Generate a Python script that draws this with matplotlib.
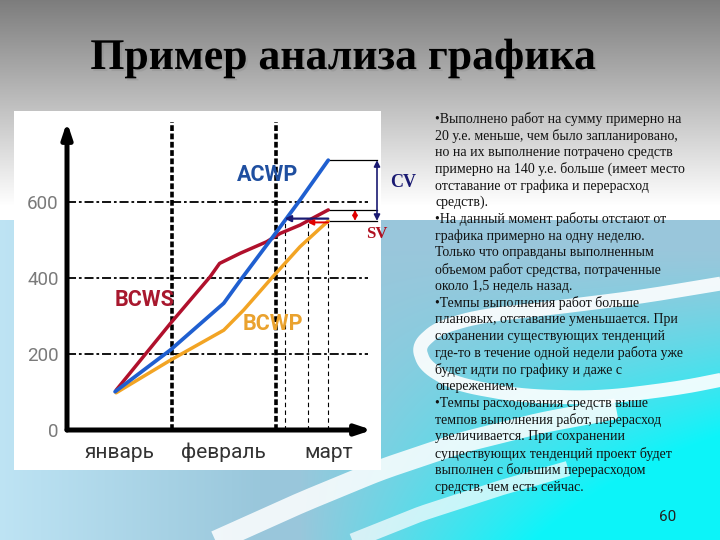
import numpy as np
import matplotlib
matplotlib.use("Agg")
import matplotlib.pyplot as plt
from matplotlib.patches import Rectangle
import matplotlib.patheffects as pe

# ---------------- data ----------------
months = ['январь', 'февраль', 'март']
month_pos = [0.5, 1.5, 2.5]
month_bounds = [1, 2]
y_ticks = [0, 200, 400, 600]

bcws_x = [0.47, 0.99, 1.37, 1.46, 1.66, 1.91, 2.04, 2.23, 2.35, 2.50]
bcws_y = [105, 281, 404, 439, 466, 496, 518, 540, 558, 580]

acwp_x = [0.46, 0.99, 1.50, 1.66, 1.97, 2.23, 2.50]
acwp_y = [101, 211, 334, 395, 509, 606, 711]

bcwp_x = [0.47, 0.99, 1.50, 1.69, 1.97, 2.23, 2.50]
bcwp_y = [98, 184, 263, 316, 404, 483, 551]

title = 'Пример анализа графика'
body_lines = [
    '•Выполнено работ на сумму примерно на',
    '20 у.е. меньше, чем было запланировано,',
    'но на их выполнение потрачено средств',
    'примерно на 140 у.е. больше (имеет место',
    'отставание от графика и перерасход',
    'средств).',
    '•На данный момент работы отстают от',
    'графика примерно на одну неделю.',
    'Только что оправданы выполненным',
    'объемом работ средства, потраченные',
    'около 1,5 недель назад.',
    '•Темпы выполнения работ больше',
    'плановых, отставание уменьшается. При',
    'сохранении существующих тенденций',
    'где-то в течение одной недели работа уже',
    'будет идти по графику и даже с',
    'опережением.',
    '•Темпы расходования средств выше',
    'темпов выполнения работ, перерасход',
    'увеличивается. При сохранении',
    'существующих тенденций проект будет',
    'выполнен с большим перерасходом',
    'средств, чем есть сейчас.',
]
page_no = '60'

NARROW = ['Roboto', 'DejaVu Sans']
SERIF = ['Liberation Serif', 'DejaVu Serif']

# ---------------- figure / background ----------------
W, H = 720, 540
fig = plt.figure(figsize=(7.2, 5.4), dpi=100)
bg = fig.add_axes([0, 0, 1, 1], zorder=-5)
bg.set_xlim(0, W)
bg.set_ylim(H, 0)
bg.axis('off')

yy, xx = np.mgrid[0:H, 0:W].astype(float)
img = np.zeros((H, W, 3))
g = np.clip(0.49 + 0.51 * yy / 205.0, 0, 1)
top = yy < 220
for c in range(3):
    img[..., c] = g
base = np.array([0.60, 0.78, 0.86])
light = np.array([0.78, 0.92, 0.98])
cyan = np.array([0.05, 0.96, 0.98])
wl = np.clip(1 - xx / 260.0, 0, 1)[..., None] * 0.8
wc = (np.clip((xx - 300) / 420.0, 0, 1) * np.clip((yy - 250) / 290.0, 0, 1) ** 1.3 * 1.8)
wc = np.clip(wc, 0, 1)[..., None]
blue = base * (1 - wl) + light * wl
blue = blue * (1 - wc) + cyan * wc
img[~top] = blue[~top]
bg.imshow(img, extent=(0, W, H, 0), aspect='auto', zorder=0)


def swoosh(pts, lw, alpha):
    p = np.array(pts, float)
    t = np.linspace(0, 1, len(p))
    ts = np.linspace(0, 1, 200)
    xs = np.interp(ts, t, p[:, 0])
    ys = np.interp(ts, t, p[:, 1])
    k = np.ones(15) / 15
    xs = np.convolve(np.pad(xs, 7, mode='edge'), k, mode='valid')
    ys = np.convolve(np.pad(ys, 7, mode='edge'), k, mode='valid')
    bg.plot(xs, ys, color='white', lw=lw, alpha=alpha, solid_capstyle='butt', zorder=1)


swoosh([(730, 282), (640, 297), (560, 307), (480, 316), (438, 328), (418, 346),
        (425, 366), (455, 384), (520, 396), (600, 398), (680, 388), (730, 378)], 10, 0.9)
swoosh([(200, 548), (300, 503), (380, 470), (460, 443), (540, 423), (620, 408)], 15, 0.85)
swoosh([(335, 548), (420, 514), (500, 488), (570, 468)], 11, 0.7)

bg.add_patch(Rectangle((14, 111), 367, 359, fc='white', ec='none', zorder=3))

bg.text(343, 69, title, ha='center', va='baseline', fontsize=31.5, fontweight='bold',
        family=SERIF, color='black', zorder=5,
        path_effects=[pe.withSimplePatchShadow(offset=(1.5, -1.5), shadow_rgbFace='#888888', alpha=0.35)])

for i, line in enumerate(body_lines):
    bg.text(435, 119 + i * 16.73, line, ha='left', va='center', fontsize=10,
            family=SERIF, color='#111111', zorder=5)

bg.text(668, 517, page_no, ha='center', va='center', fontsize=11, family=NARROW,
        color='#222222', zorder=5)

# ---------------- chart ----------------
px_per_x = 104.5
px_per_y = 0.3795
x_left, x_right, y_bot, y_top = 67, 372, 430, 122
ax = fig.add_axes([x_left / W, (H - y_bot) / H, (x_right - x_left) / W, (y_bot - y_top) / H], zorder=1)
ax.patch.set_alpha(0)
ax.set_xlim(0, (x_right - x_left) / px_per_x)
ax.set_ylim(0, (y_bot - y_top) / px_per_y)
for s in ax.spines.values():
    s.set_visible(False)
xmax = ax.get_xlim()[1]
ymax = ax.get_ylim()[1]

grid_end = (368 - x_left) / px_per_x
for v in y_ticks[1:]:
    ax.plot([0, grid_end], [v, v], color='black', lw=1.3, ls=(0, (5, 1.6, 1.5, 1.6)), zorder=2)
for b in month_bounds:
    ax.plot([b, b], [0, ymax], color='black', lw=2.6, ls=(0, (1.6, 0.7)), zorder=2)

acwp_end, bcws_end, bcwp_end = acwp_y[-1], bcws_y[-1], bcwp_y[-1]
x_end = bcwp_x[-1]
x_cv = np.interp(bcwp_end, acwp_y, acwp_x)
x_sv = np.interp(bcwp_end, bcws_y, bcws_x)
for xv in [x_cv, x_sv, x_end]:
    ax.plot([xv, xv], [0, bcwp_end], color='black', lw=0.8, ls=(0, (4, 3)), zorder=2)

ax.plot(bcwp_x, bcwp_y, color='#f2a424', lw=2.5, zorder=4, solid_capstyle='round')
ax.plot(bcws_x, bcws_y, color='#b0102c', lw=2.5, zorder=5, solid_capstyle='round')
ax.plot(acwp_x, acwp_y, color='#1f5fd0', lw=2.7, zorder=6, solid_capstyle='round')

navy = '#1a1a72'
xb = (377 - x_left) / px_per_x
for v in [acwp_end, bcws_end, bcwp_end]:
    ax.plot([x_end, xb], [v, v], color='black', lw=0.9, clip_on=False, zorder=3)
ax.annotate('', xy=(xb, bcwp_end), xytext=(xb, acwp_end), annotation_clip=False,
            arrowprops=dict(arrowstyle='<|-|>', color=navy, lw=1.2, mutation_scale=9, shrinkA=0, shrinkB=0), zorder=7)
xr = (355 - x_left) / px_per_x
ax.annotate('', xy=(xr, bcwp_end), xytext=(xr, bcws_end), annotation_clip=False,
            arrowprops=dict(arrowstyle='<|-|>', color='#e00000', lw=1.2, mutation_scale=7, shrinkA=0, shrinkB=0), zorder=7)
ax.annotate('', xy=(x_cv, bcwp_end + 6), xytext=(x_end, bcwp_end + 6),
            arrowprops=dict(arrowstyle='-|>', color=navy, lw=1.6, mutation_scale=9, shrinkA=0, shrinkB=0), zorder=7)
ax.annotate('', xy=(x_sv, bcwp_end - 4), xytext=(x_end, bcwp_end - 4),
            arrowprops=dict(arrowstyle='-|>', color='#e00000', lw=1.4, mutation_scale=8, shrinkA=0, shrinkB=0), zorder=7)

ax.text((403 - x_left) / px_per_x, (y_bot - 183) / px_per_y, 'CV', ha='center', va='center',
        fontsize=13, fontweight='bold', family=SERIF, color=navy)
ax.text((377 - x_left) / px_per_x, (y_bot - 234) / px_per_y, 'SV', ha='center', va='center',
        fontsize=12, fontweight='bold', family=SERIF, color='#b01020')

ax.text((268 - x_left) / px_per_x, (y_bot - 175) / px_per_y, 'ACWP', ha='center', va='center',
        fontsize=15.5, fontweight='bold', family=NARROW, color='#1f4fa0', zorder=8)
ax.text((145 - x_left) / px_per_x, (y_bot - 300) / px_per_y, 'BCWS', ha='center', va='center',
        fontsize=15.5, fontweight='bold', family=NARROW, color='#a8182e', zorder=8)
ax.text((273 - x_left) / px_per_x, (y_bot - 324) / px_per_y, 'BCWP', ha='center', va='center',
        fontsize=15.5, fontweight='bold', family=NARROW, color='#eaa22e', zorder=8)

ax.annotate('', xy=(0, ymax), xytext=(0, 0), annotation_clip=False,
            arrowprops=dict(arrowstyle='-|>,head_length=0.9,head_width=0.3', color='black', lw=3.6,
                            shrinkA=0, shrinkB=0), zorder=9)
ax.annotate('', xy=(xmax, 0), xytext=(0, 0), annotation_clip=False,
            arrowprops=dict(arrowstyle='-|>,head_length=0.9,head_width=0.3', color='black', lw=3.6,
                            shrinkA=0, shrinkB=0), zorder=9)

ax.set_yticks(y_ticks)
ax.set_yticklabels([str(v) for v in y_ticks])
ax.set_xticks(month_pos)
ax.set_xticklabels(months)
ax.tick_params(axis='y', length=0, pad=6, labelsize=13.5, labelcolor='#7a7a7a')
ax.tick_params(axis='x', length=0, pad=9, labelsize=15, labelcolor='#333333')
for lbl in ax.get_yticklabels() + ax.get_xticklabels():
    lbl.set_family(NARROW)

fig.savefig('out.png', dpi=100)
